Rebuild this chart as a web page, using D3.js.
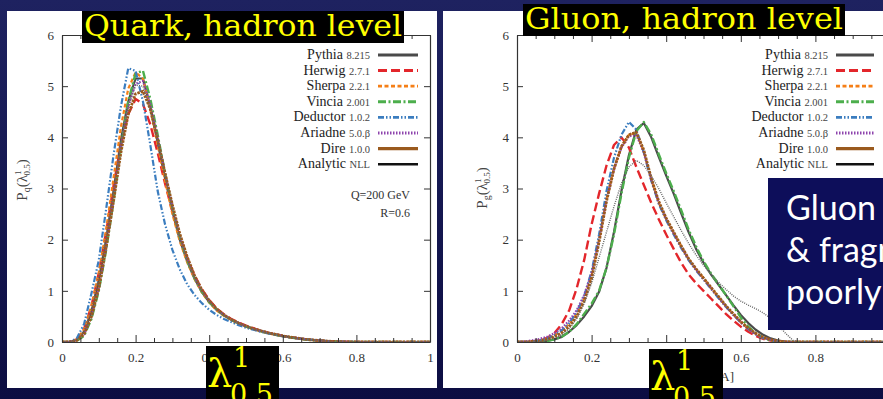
<!DOCTYPE html>
<html>
<head>
<meta charset="utf-8">
<script src="https://cdn.jsdelivr.net/npm/d3@7"></script>
<style>
  html, body { margin: 0; padding: 0; background: #10124c; }
  svg { display: block; }
</style>
</head>
<body>
<div id="chart"></div>
<script>
// lambda^1_0.5 grid, step 0.02
const lambdaGrid = [0,0.02,0.04,0.06,0.08,0.10,0.12,0.14,0.16,0.18,0.20,0.22,0.24,0.26,0.28,0.30,
  0.32,0.34,0.36,0.38,0.40,0.42,0.44,0.46,0.48,0.50,0.52,0.54,0.56,0.58,0.60,0.62,0.64,0.66,0.68,
  0.70,0.72,0.74,0.76,0.78,0.80,0.82,0.84,0.86,0.88,0.90,0.92,0.94,0.96,0.98,1.00];

const generators = ["Pythia", "Herwig", "Sherpa", "Vincia", "Deductor", "Ariadne", "Dire", "Analytic"];
const versions = ["8.215", "2.7.1", "2.2.1", "2.001", "1.0.2", "5.0.\u03b2", "1.0.0", "NLL"];

// quark jets (values after the listed ones are 0)
const quarkPythia   = [0,0,0.04,0.2,0.6,1.2,2.0,2.95,3.95,4.7,5.15,5.15,4.6,3.9,3.2,2.55,2.0,1.58,1.24,0.98,0.78,0.63,0.52,0.44,0.37,0.31,0.26,0.22,0.18,0.15,0.12,0.095,0.075,0.055,0.04,0.028,0.018,0.01,0.005,0.002];
const quarkHerwig   = [0,0,0.05,0.25,0.7,1.35,2.15,3.05,3.85,4.45,4.75,4.65,4.25,3.7,3.1,2.55,2.05,1.65,1.3,1.03,0.82,0.66,0.54,0.45,0.38,0.32,0.27,0.22,0.18,0.15,0.12,0.095,0.075,0.055,0.04,0.028,0.018,0.01,0.005,0.002];
const quarkSherpa   = [0,0,0.05,0.24,0.7,1.35,2.2,3.2,4.2,4.95,5.27,5.15,4.55,3.85,3.15,2.5,1.97,1.56,1.23,0.97,0.77,0.62,0.51,0.43,0.36,0.3,0.25,0.21,0.17,0.14,0.115,0.09,0.07,0.05,0.036,0.025,0.016,0.009,0.004,0.001];
const quarkVincia   = [0,0,0.02,0.12,0.45,1.0,1.8,2.75,3.8,4.7,5.25,5.3,4.75,4.05,3.3,2.62,2.05,1.6,1.25,0.98,0.78,0.63,0.52,0.43,0.36,0.3,0.25,0.21,0.17,0.14,0.115,0.09,0.07,0.05,0.036,0.025,0.016,0.009,0.004,0.001];
const quarkDeductor = [0,0,0.07,0.35,0.95,1.6,2.6,3.65,4.6,5.35,5.3,4.7,3.85,2.95,2.3,1.8,1.42,1.13,0.92,0.76,0.63,0.53,0.45,0.39,0.33,0.28,0.24,0.2,0.17,0.14,0.11,0.09,0.07,0.055,0.04,0.03,0.02,0.012,0.006,0.002];
const quarkAriadne  = [0,0,0.03,0.15,0.5,1.05,1.85,2.8,3.8,4.6,5.05,5.1,4.65,4.0,3.3,2.65,2.08,1.63,1.27,1.0,0.8,0.64,0.53,0.44,0.37,0.31,0.26,0.22,0.18,0.15,0.12,0.095,0.075,0.055,0.04,0.028,0.018,0.01,0.005,0.002];
const quarkDire     = [0,0,0.03,0.15,0.5,1.05,1.85,2.75,3.7,4.45,4.85,4.9,4.55,3.95,3.3,2.68,2.12,1.67,1.3,1.02,0.81,0.65,0.53,0.44,0.37,0.31,0.26,0.22,0.18,0.15,0.12,0.095,0.075,0.055,0.04,0.028,0.018,0.01,0.005,0.002];
const quarkNLL      = [0,0,0.04,0.22,0.65,1.3,2.1,3.0,3.9,4.6,5.02,5.0,4.55,3.9,3.22,2.58,2.03,1.6,1.26,1.0,0.8,0.64,0.52,0.43,0.36,0.3,0.25,0.21,0.17,0.14,0.11,0.09,0.07,0.05,0.036,0.025,0.016,0.009,0.004,0.001];

// gluon jets
const gluonPythia   = [0,0,0,0.01,0.02,0.05,0.1,0.2,0.33,0.5,0.7,0.98,1.45,2.15,2.95,3.65,4.15,4.28,4.0,3.62,3.25,2.9,2.52,2.15,1.82,1.55,1.32,1.12,0.92,0.72,0.53,0.37,0.24,0.14,0.07,0.03,0.01,0];
const gluonHerwig   = [0,0,0.01,0.03,0.08,0.17,0.35,0.62,1.05,1.6,2.3,2.9,3.45,3.85,4.0,3.8,3.42,3.07,2.72,2.4,2.1,1.82,1.55,1.32,1.15,1.0,0.85,0.7,0.55,0.42,0.3,0.2,0.12,0.06,0.03,0.01,0];
const gluonSherpa   = [0,0,0.01,0.03,0.07,0.13,0.22,0.35,0.55,0.85,1.3,2.0,2.8,3.4,3.82,4.05,4.08,3.72,3.18,2.72,2.4,2.13,1.87,1.62,1.42,1.25,1.06,0.88,0.7,0.54,0.39,0.26,0.16,0.09,0.04,0.015,0];
const gluonVincia   = [0,0,0,0.01,0.02,0.05,0.1,0.2,0.35,0.55,0.75,1.0,1.45,2.1,2.9,3.6,4.12,4.3,4.05,3.67,3.3,2.95,2.58,2.2,1.87,1.58,1.34,1.13,0.92,0.7,0.48,0.3,0.17,0.08,0.03,0.01,0];
const gluonDeductor = [0,0,0.01,0.03,0.07,0.13,0.23,0.37,0.58,0.9,1.38,2.1,2.95,3.6,4.05,4.3,4.15,3.7,3.15,2.7,2.38,2.1,1.84,1.6,1.4,1.22,1.04,0.86,0.69,0.53,0.38,0.25,0.15,0.08,0.04,0.015,0];
const gluonAriadne  = [0,0.01,0.03,0.06,0.1,0.17,0.27,0.42,0.62,0.92,1.35,2.0,2.78,3.38,3.8,4.02,4.05,3.7,3.17,2.72,2.4,2.12,1.86,1.61,1.41,1.23,1.05,0.87,0.69,0.53,0.38,0.25,0.15,0.08,0.04,0.015,0];
const gluonDire     = [0,0,0.01,0.02,0.05,0.1,0.18,0.3,0.5,0.8,1.25,1.95,2.75,3.38,3.82,4.05,4.1,3.75,3.2,2.75,2.42,2.15,1.88,1.63,1.43,1.25,1.07,0.89,0.71,0.55,0.4,0.27,0.17,0.09,0.045,0.02,0];
const gluonNLL      = [0,0,0,0.01,0.03,0.07,0.14,0.26,0.45,0.75,1.15,1.65,2.15,2.65,3.1,3.42,3.55,3.45,3.25,3.0,2.72,2.45,2.18,1.93,1.7,1.5,1.32,1.17,1.03,0.9,0.8,0.72,0.65,0.57,0.46,0.33,0.17,0.03,0];

const xTicks = [0, 0.2, 0.4, 0.6, 0.8, 1];
const xMinorTicks = [0.05,0.1,0.15,0.25,0.3,0.35,0.45,0.5,0.55,0.65,0.7,0.75,0.85,0.9,0.95];
const yTicks = [0, 1, 2, 3, 4, 5, 6];

const colors = ["#4a4a4a", "#e3262b", "#f57f17", "#4cae4c", "#3b7dbf", "#8e44ad", "#9a5a1e", "#111"];
const dashes = ["", "9,4", "4,2.5", "8,2.5,2,2.5", "6,2,1.5,2,1.5,2", "1.5,1.5", "2.5,1", "1,1.2"];
const widths = [2.2, 2.4, 2.2, 2.4, 2.2, 2.2, 2.8, 1.4];
const plotColors = colors.map((c, i) => i === 7 ? "#666" : c);

const W = 883, H = 399;
const svg = d3.select("#chart").append("svg").attr("width", W).attr("height", H);

// slide background
const defs = svg.append("defs");
const bg = defs.append("linearGradient").attr("id", "bg").attr("x1", 0).attr("y1", 0).attr("x2", 0).attr("y2", 1);
bg.append("stop").attr("offset", "0%").attr("stop-color", "#1e2260");
bg.append("stop").attr("offset", "100%").attr("stop-color", "#0c0d42");
svg.append("rect").attr("width", W).attr("height", H).attr("fill", "url(#bg)");

const pad = arr => lambdaGrid.map((x, i) => ({ x, y: arr[i] ?? 0 }));

function panel(cfg) {
  const g = svg.append("g");
  g.append("rect").attr("x", cfg.bx).attr("y", 11).attr("width", cfg.bw).attr("height", 377).attr("fill", "#fff");

  const x = d3.scaleLinear().domain([0, 1]).range(cfg.xr);
  const y = d3.scaleLinear().domain([0, 6]).range([342, 35]);

  const clipId = "clip" + cfg.name;
  defs.append("clipPath").attr("id", clipId).append("rect")
    .attr("x", cfg.xr[0]).attr("y", 35).attr("width", cfg.xr[1] - cfg.xr[0]).attr("height", 308);

  const line = d3.line().x(d => x(d.x)).y(d => y(d.y));
  const curves = g.append("g").attr("clip-path", `url(#${clipId})`);
  cfg.series.forEach((s, i) => {
    curves.append("path")
      .datum(pad(s))
      .attr("fill", "none")
      .attr("stroke", plotColors[i])
      .attr("stroke-width", widths[i])
      .attr("stroke-dasharray", dashes[i])
      .attr("stroke-linejoin", "round")
      .attr("d", line);
  });

  const axes = g.append("g").attr("color", "#333");
  const style = sel => {
    sel.select(".domain").attr("stroke-width", 1.2);
    sel.selectAll("text").attr("fill", "#333").attr("font-size", 13).attr("font-family", "Liberation Serif, serif");
  };
  axes.append("g").attr("transform", "translate(0,342)")
    .call(d3.axisBottom(x).tickValues(xTicks).tickSize(-7).tickSizeOuter(0).tickPadding(11).tickFormat(d3.format("~g")))
    .call(style);
  axes.append("g").attr("transform", "translate(0,342)")
    .call(d3.axisBottom(x).tickValues(xMinorTicks).tickSize(-4).tickSizeOuter(0).tickFormat(""))
    .call(sel => sel.select(".domain").remove());
  axes.append("g").attr("transform", "translate(0,35)")
    .call(d3.axisTop(x).tickValues(xTicks).tickSize(-7).tickSizeOuter(0).tickFormat(""))
    .call(style);
  axes.append("g").attr("transform", "translate(0,35)")
    .call(d3.axisTop(x).tickValues(xMinorTicks).tickSize(-4).tickSizeOuter(0).tickFormat(""))
    .call(sel => sel.select(".domain").remove());
  axes.append("g").attr("transform", `translate(${cfg.xr[0]},0)`)
    .call(d3.axisLeft(y).tickValues(yTicks).tickSize(-6).tickSizeOuter(0).tickPadding(8).tickFormat(d3.format("d")))
    .call(style);
  axes.append("g").attr("transform", `translate(${x(1)},0)`)
    .call(d3.axisRight(y).tickValues(yTicks).tickSize(-6).tickSizeOuter(0).tickFormat(""))
    .call(style);

  // y label
  const yl = g.append("text")
    .attr("transform", `translate(${cfg.ylx},${cfg.yly}) rotate(-90)`)
    .attr("text-anchor", "middle").attr("font-family", "Liberation Serif, serif")
    .attr("font-size", 15).attr("fill", "#444");
  yl.append("tspan").text("P");
  yl.append("tspan").attr("font-size", 10).attr("dy", 3).text(cfg.sub);
  yl.append("tspan").attr("dy", -3).text("(\u03bb");
  yl.append("tspan").attr("font-size", 9).attr("dy", -6).text("1");
  yl.append("tspan").attr("font-size", 9).attr("dx", -5).attr("dy", 9).text("0.5");
  yl.append("tspan").attr("dy", -3).text(")");

  // legend
  const leg = g.append("g").attr("font-family", "Liberation Serif, serif").attr("fill", "#222");
  generators.forEach((name, i) => {
    const ly = 55 + i * 15.6;
    const t = leg.append("text").attr("x", cfg.lx).attr("y", ly + 4).attr("text-anchor", "end");
    t.append("tspan").attr("font-size", 14).text(name + " ");
    t.append("tspan").attr("font-size", 10.5).attr("fill", "#444").text(versions[i]);
    leg.append("line")
      .attr("x1", cfg.lx + 8).attr("x2", cfg.lx + cfg.lw)
      .attr("y1", ly).attr("y2", ly)
      .attr("stroke", colors[i]).attr("stroke-width", i === 7 ? 2.6 : widths[i] + 0.6)
      .attr("stroke-dasharray", i === 0 || i === 6 || i === 7 ? "" : dashes[i]);
  });

  // title box
  g.append("rect").attr("x", cfg.tx).attr("y", cfg.ty).attr("width", 322).attr("height", 32).attr("fill", "#000");
  g.append("text").attr("x", cfg.tx + 2).attr("y", cfg.ty + 25)
    .attr("font-family", "DejaVu Serif, serif").attr("font-size", 30).attr("fill", "#ffff00")
    .attr("textLength", 318).attr("lengthAdjust", "spacingAndGlyphs")
    .text(cfg.title);

  return { g, x, y };
}

const left = panel({
  name: "q", bx: 7, bw: 430, xr: [62, 430], series: [quarkPythia, quarkHerwig, quarkSherpa, quarkVincia, quarkDeductor, quarkAriadne, quarkDire, quarkNLL],
  ylx: 27, yly: 180, sub: "q", lx: 370, lw: 48, tx: 82, ty: 11, title: "Quark,  hadron level"
});
const right = panel({
  name: "g", bx: 443, bw: 440, xr: [517, 890], series: [gluonPythia, gluonHerwig, gluonSherpa, gluonVincia, gluonDeductor, gluonAriadne, gluonDire, gluonNLL],
  ylx: 487, yly: 188, sub: "g", lx: 828, lw: 46, tx: 523, ty: 4, title: "Gluon,  hadron level"
});

// jet settings
left.g.append("g").attr("font-family", "Liberation Serif, serif").attr("font-size", 12).attr("fill", "#333")
  .attr("text-anchor", "end")
  .call(s => { s.append("text").attr("x", 410).attr("y", 199).text("Q=200 GeV"); s.append("text").attr("x", 410).attr("y", 217).text("R=0.6"); });

// right axis title tail
right.g.append("text").attr("x", 734).attr("y", 381).attr("text-anchor", "end")
  .attr("font-family", "Liberation Serif, serif").attr("font-size", 13).attr("fill", "#333").text("[LHA]");

// lambda boxes
function lambdaBox(bx, by, w, h, dy) {
  svg.append("rect").attr("x", bx).attr("y", by).attr("width", w).attr("height", h).attr("fill", "#000");
  const t = svg.append("g").attr("font-family", "DejaVu Serif, serif").attr("fill", "#ffff00");
  t.append("text").attr("x", bx + 1).attr("y", 387 + dy).attr("font-size", 40).text("\u03bb");
  t.append("text").attr("x", bx + 27).attr("y", 367 + dy).attr("font-size", 27).text("1");
  t.append("text").attr("x", bx + 24).attr("y", 404 + dy).attr("font-size", 27).text("0.5");
}
lambdaBox(206, 346, 73, 53, 0);
lambdaBox(649, 349, 74, 50, 3);

// slide text box
svg.append("rect").attr("x", 768).attr("y", 178).attr("width", 120).attr("height", 152).attr("fill", "#0d0e5a");
const note = svg.append("g").attr("font-family", "Lato, sans-serif").attr("font-size", 34).attr("fill", "#fff");
["Gluon radiation", "& fragmentation", "poorly constrained"].forEach((s, i) => {
  note.append("text").attr("x", 786).attr("y", 220 + i * 42).text(s);
});
</script>
</body>
</html>
